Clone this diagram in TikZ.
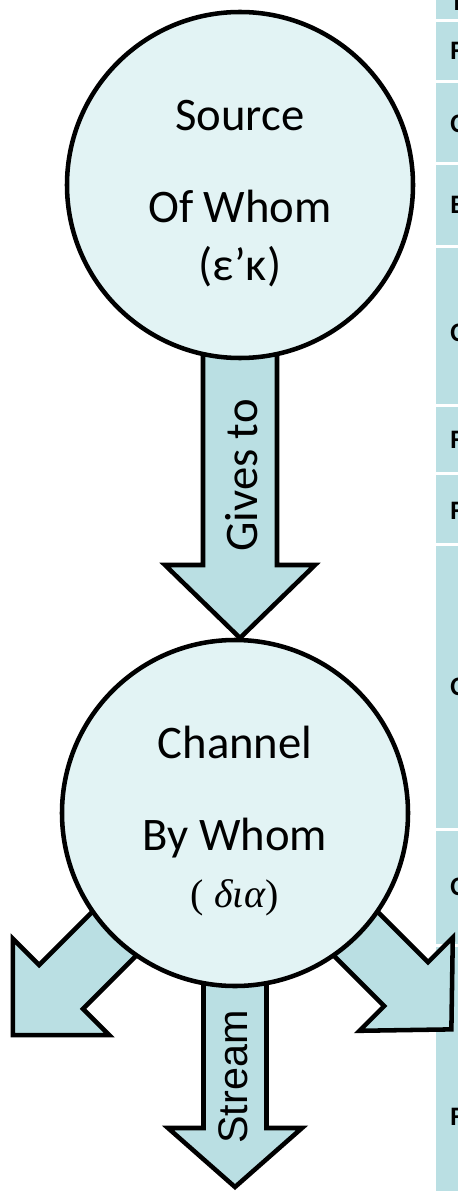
\documentclass[tikz,border=0pt]{standalone}
\usepackage{fontspec}
\setmainfont{Carlito}
\newfontfamily\streamfont{Liberation Sans}
\newfontfamily\greekserif{Liberation Serif}
\usetikzlibrary{backgrounds,calc}
\definecolor{circfill}{RGB}{226,243,244}
\definecolor{arrfill}{RGB}{186,223,227}

\begin{document}
\begin{tikzpicture}[x=0.75pt,y=-0.75pt]

\tikzset{bubble/.style = {shape=circle,draw,line width=3.4pt,fill=circfill,minimum size=259.5pt,inner sep=0pt,outer sep=0pt}}
\tikzset{bigtext/.style = {font=\fontsize{35}{40}\selectfont,inner sep=0pt,anchor=base}}
\tikzset{greektext/.style = {font=\fontsize{30}{34}\selectfont\greekserif,inner sep=0pt,anchor=base}}
\tikzset{arrowshape/.style = {draw,line width=3.4pt,fill=arrfill,line join=miter}}
\tikzset{cell/.style = {fill=arrfill}}
\tikzset{stripletter/.style = {font=\fontsize{20}{22}\selectfont\bfseries,inner sep=0pt,anchor=west}}
\tikzset{pics/blockarrow/.style args={#1/#2/#3/#4/#5}{code={
  \draw[arrowshape] (#1,-#4) -- (#2,-#4) -- (#2,-#5) -- (#3,0) -- (#2,#5) -- (#2,#4) -- (#1,#4) -- cycle;
}}}

\useasboundingbox (0,0) rectangle (457,1191);

\node[bubble] (src) at (240,185) {};
\node[bubble] (chn) at (235,813) {};

\node[bigtext] (srcname) at ($(src.center)+(0,-54)$) {Source};
\node[bigtext] (srcwho) at ($(src.center)+(0,38)$) {Of Whom};
\node[bigtext] (srcgr) at ($(src.center)+(0,95)$) {(ε’κ)};

\node[bigtext] (chnname) at ($(chn.center)+(0,-55)$) {Channel};
\node[bigtext] (chnwho) at ($(chn.center)+(0,37)$) {By Whom};
\node[greektext] (chngr) at ($(chn.center)+(0,94)$) {( \textit{δια})};

\node[font=\fontsize{35}{40}\selectfont,inner sep=0pt,rotate=90] (gives) at (241.5,475.5) {Gives to};
\node[font=\fontsize{31}{36}\selectfont\streamfont,inner sep=0pt,rotate=90] (stream) at (233,1077) {Stream};

\begin{scope}[on background layer]
\foreach \ytop/\ybot in {-20/19,22/80,83/162,165/245,248/404,407/472,475/543,546/828,831/944,947/1300}
  \fill[cell] (436,\ytop) rectangle (460,\ybot);
\foreach \lab/\ly in {T/2,F/51,C/124,E/205,C/333,F/440,F/511,C/687,C/887,F/1117}
  \node[stripletter] (sl\ly) at (450,\ly) {\lab};

\pic[rotate=-90] at (src.center) {blockarrow=150/380/453/37/75};
\pic[rotate=-90] at (chn.center) {blockarrow=150/315/374/31.5/67};
\pic[rotate=-135] at (chn.center) {blockarrow=150/246/314/31/68};
\pic[rotate=-45] at (chn.center) {blockarrow=150/242/306/31/66};
\end{scope}

\end{tikzpicture}
\end{document}
